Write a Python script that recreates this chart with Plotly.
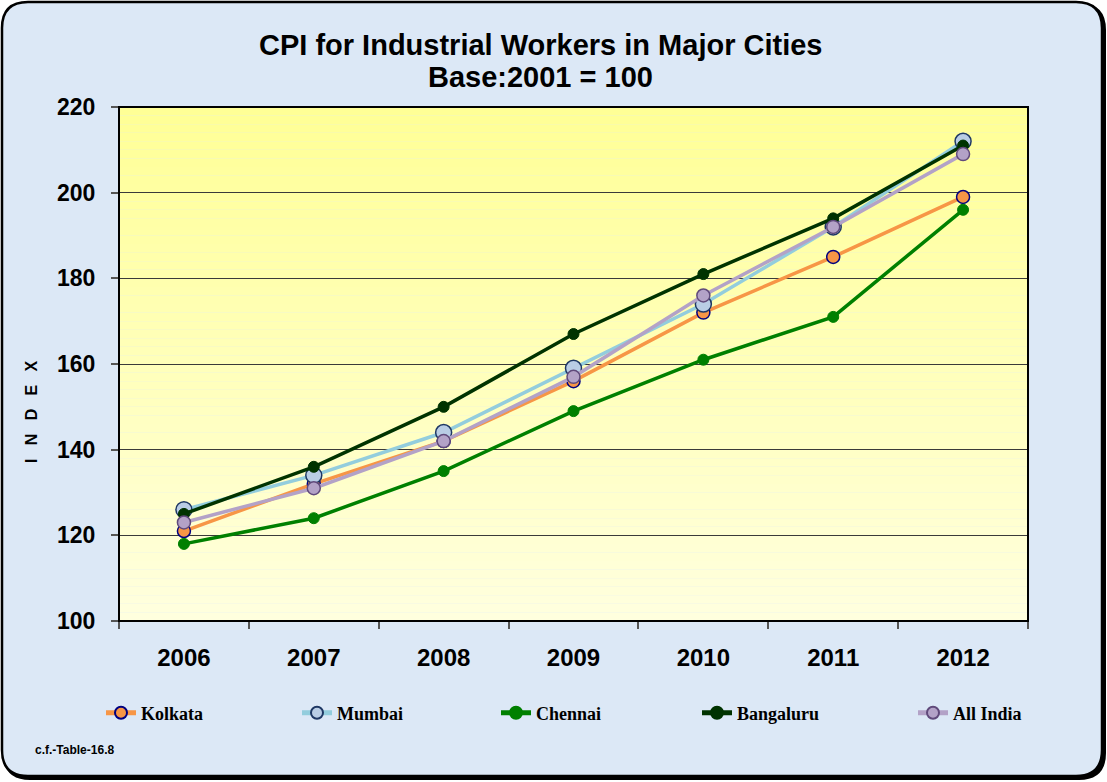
import plotly.graph_objects as go

years = ["2006", "2007", "2008", "2009", "2010", "2011", "2012"]
kolkata = [121, 132, 142, 156, 172, 185, 199]
mumbai = [126, 134, 144, 159, 174, 192, 212]
chennai = [118, 124, 135, 149, 161, 171, 196]
bangaluru = [125, 136, 150, 167, 181, 194, 211]
all_india = [123, 131, 142, 157, 176, 192, 209]

series = [
    ("Kolkata", kolkata, "#F79646", dict(size=13, color="#F79646", line=dict(color="#000080", width=1.5))),
    ("Mumbai", mumbai, "#93CDDD", dict(size=16, color="#B9CDE5", line=dict(color="#1F3864", width=1.5))),
    ("Chennai", chennai, "#008000", dict(size=11, color="#008000", line=dict(color="#008000", width=1))),
    ("Bangaluru", bangaluru, "#003300", dict(size=11, color="#003300", line=dict(color="#003300", width=1))),
    ("All India", all_india, "#B3A2C7", dict(size=13, color="#B3A2C7", line=dict(color="#604A7B", width=1.5))),
]
legend_marker_px = [121, 317, 516, 717, 933]

W, H = 1107, 782
PL, PR, PT, PB = 119, 1028, 107, 621

fig = go.Figure()
legend_ids = ["legend", "legend2", "legend3", "legend4", "legend5"]
for (name, vals, col, mk), lid in zip(series, legend_ids):
    fig.add_trace(go.Scatter(x=years, y=vals, name=name, mode="lines+markers",
                             line=dict(color=col, width=3.5), marker=mk, legend=lid))

def X(v):
    return (v - PL) / (PR - PL)

def Y(v):
    return (PB - v) / (PB - PT)

def rr(x0, y0, x1, y1, r):
    pts = [
        ("M", [(x0 + r, y0)]), ("L", [(x1 - r, y0)]), ("Q", [(x1, y0), (x1, y0 + r)]),
        ("L", [(x1, y1 - r)]), ("Q", [(x1, y1), (x1 - r, y1)]), ("L", [(x0 + r, y1)]),
        ("Q", [(x0, y1), (x0, y1 - r)]), ("L", [(x0, y0 + r)]), ("Q", [(x0, y0), (x0 + r, y0)]),
    ]
    s = " ".join(c + " " + " ".join(f"{X(a):.5f},{Y(b):.5f}" for a, b in p) for c, p in pts)
    return s + " Z"

shapes = []
r = 26
shapes.append(dict(type="path", xref="paper", yref="paper", path=rr(4, 4, 1105, 779, r),
                   fillcolor="black", line=dict(color="black", width=2), layer="below"))
shapes.append(dict(type="path", xref="paper", yref="paper", path=rr(2, 2, 1102, 776, r),
                   fillcolor="#DCE8F6", line=dict(color="black", width=2.5), layer="below"))
n = 60
top = (255, 255, 150)
bot = (255, 255, 222)
for i in range(n):
    t = i / (n - 1)
    c = tuple(round(top[k] + (bot[k] - top[k]) * t) for k in range(3))
    shapes.append(dict(type="rect", xref="x domain", yref="y domain",
                       x0=0, x1=1, y0=1 - (i + 1) / n, y1=1 - i / n,
                       fillcolor=f"rgb{c}", line=dict(width=0), layer="below"))
shapes.append(dict(type="rect", xref="x domain", yref="y domain", x0=0, x1=1, y0=0, y1=1,
                   line=dict(color="black", width=2), layer="above"))

legend_font = dict(family="Liberation Serif", size=18, color="black", weight="bold")
legends = {}
for lid, mpx in zip(legend_ids, legend_marker_px):
    legends[lid] = dict(orientation="h", xref="container", yref="container",
                        x=(mpx - 20) / W, y=1 - 713 / H, xanchor="left", yanchor="middle",
                        font=legend_font, bgcolor="rgba(0,0,0,0)", itemsizing="constant")

fig.update_layout(
    width=W, height=H,
    margin=dict(l=PL, r=W - PR, t=PT, b=H - PB, autoexpand=False),
    paper_bgcolor="white",
    plot_bgcolor="rgba(0,0,0,0)",
    shapes=shapes,
    showlegend=True,
    annotations=[
        dict(text="<b>CPI for Industrial Workers in Major Cities</b>", xref="paper", yref="paper",
             x=X(540), y=Y(45), xanchor="center", yanchor="middle", showarrow=False,
             font=dict(family="Liberation Sans", size=29, color="black")),
        dict(text="<b>Base:2001 = 100</b>", xref="paper", yref="paper",
             x=X(540), y=Y(77), xanchor="center", yanchor="middle", showarrow=False,
             font=dict(family="Liberation Sans", size=29, color="black")),
        dict(text="<b>I&nbsp;&nbsp;&nbsp;N&nbsp;&nbsp;&nbsp;D&nbsp;&nbsp;&nbsp;E&nbsp;&nbsp;&nbsp;X</b>",
             xref="paper", yref="paper", textangle=-90,
             x=X(31), y=Y(412), xanchor="center", yanchor="middle", showarrow=False,
             font=dict(family="Liberation Sans", size=16, color="black")),
        dict(text="<b>c.f.-Table-16.8</b>", xref="paper", yref="paper",
             x=X(33), y=Y(750), xanchor="left", yanchor="middle", showarrow=False,
             font=dict(family="Liberation Sans", size=12, color="black")),
    ],
    **legends,
)
fig.update_xaxes(type="category", range=[-0.5, 6.5], tickson="boundaries", ticks="outside",
                 ticklen=7, tickcolor="#555", tickwidth=1.5, showgrid=False, showline=False,
                 tickfont=dict(family="Liberation Sans", size=24, color="black", weight="bold"),
                 ticklabelstandoff=20)
fig.update_yaxes(range=[100, 220], dtick=20, ticks="outside", ticklen=7, tickcolor="#555",
                 tickwidth=1.5, showgrid=True, gridcolor="#3a3a3a", gridwidth=1, showline=False,
                 zeroline=False,
                 tickfont=dict(family="Liberation Sans", size=23, color="black", weight="bold"),
                 ticklabelstandoff=11)

fig.write_html("out.html", config={"displayModeBar": False},
               post_script="document.body.style.margin='0px';")
